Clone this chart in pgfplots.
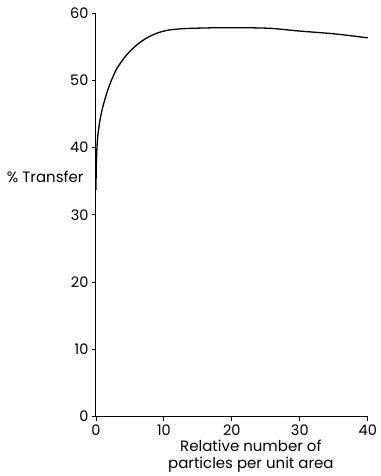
\documentclass[border=0pt]{standalone}
\usepackage{fontspec}
\setmainfont{Poppins}
\usepackage{pgfplots}
\pgfplotsset{compat=1.18}
\begin{document}
\begin{tikzpicture}
\begin{axis}[
  scale only axis,
  width=272pt, height=404pt,
  xmin=0, xmax=40, ymin=0, ymax=60,
  axis lines=left,
  axis line style={line width=1pt, -},
  xtick={0,10,20,30,40},
  ytick={0,10,20,30,40,50,60},
  tick align=outside,
  major tick length=4pt,
  tick style={line width=0.8pt, black},
  /pgf/number format/assume math mode=true,
  ticklabel style={font=\fontsize{14.5}{16}\selectfont},
  xticklabel style={yshift=-1pt},
  xlabel={Relative number of\\particles per unit area},
  xlabel style={align=center, font=\fontsize{15}{17}\selectfont, at={(axis description cs:0.57,-0.05)}, anchor=north},
  clip=false,
]
\addplot[black, line width=1.3pt, smooth, tension=0.4] coordinates {
  (0,33.7) (0.05,37.0) (0.15,40.0) (0.3,42.0) (0.6,44.1) (1.0,46.0) (1.6,48.1)
  (2.2,49.8) (3.0,51.6) (4.0,53.1) (5.0,54.3) (6.2,55.4) (7.5,56.3)
  (9.0,57.0) (10.4,57.4) (12.0,57.6) (13.8,57.7) (17.9,57.8) (22,57.8)
  (25.8,57.7) (30,57.3) (35,56.9) (40,56.3)
};
\node[anchor=east, font=\fontsize{15}{17}\selectfont] at (axis cs:0,35.6) [xshift=-9pt] {\% Transfer};
\path (rel axis cs:-0.353,-0.146) rectangle (rel axis cs:1.029,1.032);
\end{axis}
\end{tikzpicture}
\end{document}
